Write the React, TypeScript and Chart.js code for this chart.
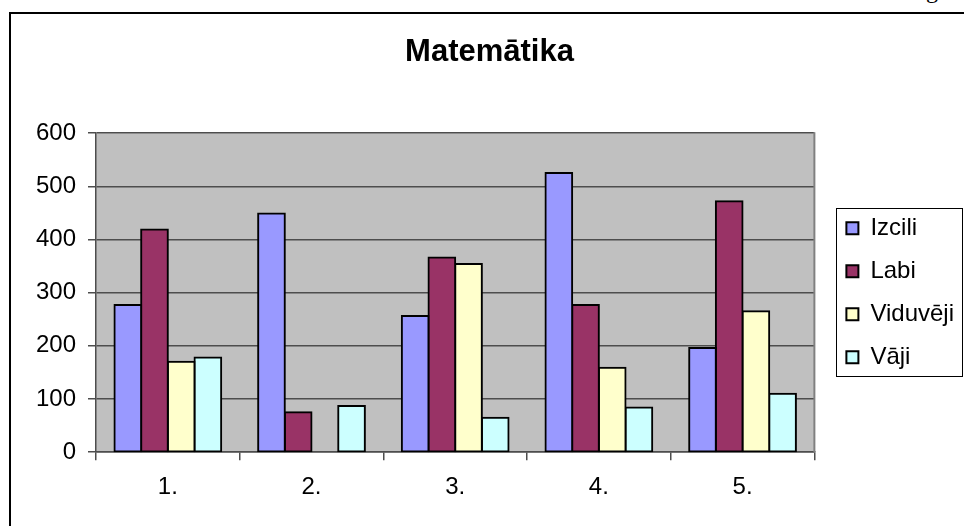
import React, { useEffect, useRef } from 'react';
import { Chart, registerables } from 'chart.js';

Chart.register(...registerables);

const chartTitle = 'Matemātika';
const categories = ['1.', '2.', '3.', '4.', '5.'];
const seriesNames = ['Izcili', 'Labi', 'Viduvēji', 'Vāji'];
const izcili = [277, 449, 256, 525, 196];
const labi = [419, 75, 366, 277, 472];
const viduveji = [170, 0, 354, 159, 265];
const vaji = [178, 87, 65, 84, 110];
const yTickValues = [0, 100, 200, 300, 400, 500, 600];
const seriesColors = ['#9999FF', '#993366', '#FFFFCC', '#CCFFFF'];

const FONT = 'Liberation Sans';
const LEGEND_PAD = 19;
const LEGEND_FONT = 24;

const framePlugin = {
  id: 'excelFrame',
  beforeDraw(chart: any) {
    const { ctx, chartArea: a } = chart;
    ctx.save();
    ctx.fillStyle = '#C0C0C0';
    ctx.fillRect(a.left, a.top, a.right - a.left, a.bottom - a.top);
    ctx.restore();
  },
  afterDraw(chart: any) {
    const { ctx, chartArea: a, legend } = chart;
    ctx.save();
    ctx.strokeStyle = '#808080';
    ctx.lineWidth = 2;
    ctx.beginPath();
    ctx.moveTo(a.right, a.top - 1);
    ctx.lineTo(a.right, a.bottom);
    ctx.stroke();
    if (legend && legend.legendItems) {
      const n = legend.legendItems.length;
      const step = LEGEND_FONT + LEGEND_PAD;
      const colH = n * step;
      const startY = (legend.top + LEGEND_PAD + legend.bottom - colH) / 2;
      const x0 = Math.round(legend.left + LEGEND_PAD - 10);
      const x1 = Math.round(legend.right - 2);
      const y0 = Math.round(startY + LEGEND_FONT / 2 - 20.5);
      const y1 = Math.round(startY + (n - 1) * step + LEGEND_FONT / 2 + 18.5);
      ctx.strokeStyle = '#000';
      ctx.lineWidth = 1;
      ctx.strokeRect(x0 + 0.5, y0 + 0.5, x1 - x0, y1 - y0);
    }
    ctx.restore();
  },
};

export default function App() {
  const canvasRef = useRef<HTMLCanvasElement | null>(null);

  useEffect(() => {
    const canvas = canvasRef.current;
    if (!canvas) return;
    const seriesData = [izcili, labi, viduveji, vaji];
    const chart = new Chart(canvas, {
      type: 'bar',
      data: {
        labels: categories,
        datasets: seriesNames.map((name, i) => ({
          label: name,
          data: seriesData[i],
          backgroundColor: seriesColors[i],
          borderColor: '#000000',
          borderWidth: 2,
          borderSkipped: false,
          inflateAmount: 1,
          categoryPercentage: 0.743,
          barPercentage: 1,
        })),
      },
      options: {
        responsive: false,
        animation: false,
        devicePixelRatio: 1,
        layout: { padding: { left: 15, right: 0, top: 13, bottom: 11 } },
        plugins: {
          title: {
            display: true,
            text: chartTitle,
            color: '#000',
            font: { family: FONT, size: 31, weight: 'bold' },
            padding: { top: 21, bottom: 62 },
          },
          legend: {
            display: true,
            position: 'right',
            fullSize: false,
            labels: {
              color: '#000',
              font: { family: FONT, size: LEGEND_FONT },
              boxWidth: 12,
              boxHeight: 12,
              padding: LEGEND_PAD,
            },
          },
          tooltip: { enabled: false },
        },
        scales: {
          x: {
            grid: {
              display: true,
              drawOnChartArea: false,
              drawTicks: true,
              tickLength: 8,
              color: '#4d4d4d',
              lineWidth: 1.5,
              offset: true,
            },
            border: { display: true, color: '#4d4d4d', width: 1.5 },
            ticks: {
              color: '#000',
              font: { family: FONT, size: 24 },
              padding: 13,
              maxRotation: 0,
            },
          },
          y: {
            min: 0,
            max: 600,
            afterBuildTicks: (scale: any) => {
              scale.ticks = yTickValues.map((v) => ({ value: v }));
            },
            afterFit: (scale: any) => {
              scale.width = 81;
            },
            grid: {
              color: '#4d4d4d',
              lineWidth: 1.5,
              drawTicks: true,
              tickLength: 8,
            },
            border: { display: true, color: '#4d4d4d', width: 1.5 },
            ticks: {
              color: '#000',
              font: { family: FONT, size: 24 },
              padding: 12,
            },
          },
          gap: {
            type: 'linear',
            position: 'right',
            display: true,
            grid: { display: false, drawTicks: false },
            border: { display: false },
            ticks: { display: false },
            afterFit: (scale: any) => {
              scale.width = 13;
            },
          },
        },
      } as any,
      plugins: [framePlugin],
    });
    return () => chart.destroy();
  }, []);

  return (
    <div
      style={{
        position: 'fixed',
        left: 0,
        top: 0,
        width: 964,
        height: 526,
        background: '#fff',
        overflow: 'hidden',
      }}
    >
      <div
        style={{
          position: 'absolute',
          left: 9,
          top: 12,
          right: -4,
          bottom: -4,
          borderLeft: '2px solid #000',
          borderTop: '2px solid #000',
        }}
      />
      <div
        style={{
          position: 'absolute',
          left: 926,
          top: -22,
          fontFamily: '"Liberation Serif", serif',
          fontSize: 24,
          lineHeight: '24px',
          color: '#000',
        }}
      >
        g
      </div>
      <canvas
        ref={canvasRef}
        width={964}
        height={526}
        style={{ position: 'absolute', left: 0, top: 0, width: 964, height: 526 }}
      />
    </div>
  );
}
